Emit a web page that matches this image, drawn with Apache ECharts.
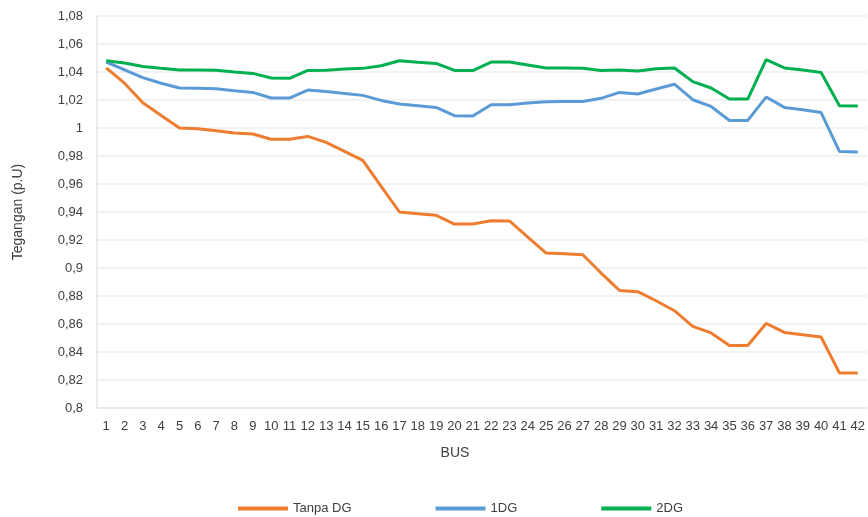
<!DOCTYPE html>
<html>
<head>
<meta charset="utf-8">
<script src="https://cdn.jsdelivr.net/npm/echarts@6/dist/echarts.min.js"></script>
<style>
  html, body { margin: 0; padding: 0; background: #fff; }
  #chart { width: 868px; height: 517px; }
</style>
</head>
<body>
<div id="chart"></div>
<script>
const buses = Array.from({ length: 42 }, (_, i) => String(i + 1));

const tanpaDG = [
  1.043, 1.032, 1.018, 1.009, 1.000, 0.9995, 0.998, 0.9965, 0.9957, 0.992,
  0.992, 0.994, 0.9897, 0.9833, 0.9769, 0.9583, 0.940, 0.9388, 0.9376, 0.9314,
  0.9314, 0.9338, 0.9336, 0.9221, 0.9107, 0.9102, 0.9095, 0.8964, 0.884, 0.8831,
  0.8766, 0.8695, 0.8583, 0.8536, 0.8447, 0.8447, 0.8604, 0.854, 0.8524, 0.8507,
  0.825, 0.825,
];

const oneDG = [
  1.047, 1.0416, 1.036, 1.032, 1.0286, 1.0284, 1.028, 1.0266, 1.0254, 1.0214,
  1.0214, 1.0271, 1.0261, 1.0247, 1.0233, 1.0197, 1.0171, 1.0159, 1.0147, 1.0088,
  1.0086, 1.0166, 1.0166, 1.0178, 1.0188, 1.019, 1.019, 1.0212, 1.0254, 1.0243,
  1.0279, 1.0313, 1.0202, 1.0154, 1.0054, 1.0054, 1.0221, 1.0147, 1.0131, 1.011,
  0.9833, 0.9829,
];

const twoDG = [
  1.048, 1.0464, 1.044, 1.0426, 1.0414, 1.0414, 1.0413, 1.040, 1.039, 1.0357,
  1.0355, 1.0411, 1.0413, 1.0421, 1.0426, 1.0445, 1.048, 1.047, 1.0461, 1.0411,
  1.041, 1.0471, 1.0471, 1.045, 1.0429, 1.0429, 1.0426, 1.041, 1.0414, 1.0407,
  1.0424, 1.0429, 1.0331, 1.0286, 1.0207, 1.0207, 1.0488, 1.0429, 1.0414, 1.0397,
  1.0159, 1.0157,
];

const seriesNames = ['Tanpa DG', '1DG', '2DG'];
const seriesColors = ['#ED7D31', '#5B9BD5', '#00B050'];

const textColor = '#404040';
const font = 'Liberation Sans, Arial, sans-serif';

const chart = echarts.init(document.getElementById('chart'), null, { renderer: 'canvas' });

const makeLine = (name, data, color) => ({
  name,
  type: 'line',
  data,
  symbol: 'none',
  lineStyle: { color, width: 3 },
  itemStyle: { color },
  animation: false,
});

chart.setOption({
  backgroundColor: '#fff',
  animation: false,
  textStyle: { fontFamily: font },
  grid: { left: 97, right: 1, top: 16, bottom: 109 },
  legend: {
    left: 233,
    top: 497,
    itemWidth: 50,
    itemHeight: 4,
    itemGap: 84,
    icon: 'rect',
    textStyle: { color: textColor, fontSize: 13, fontFamily: font },
    data: seriesNames,
  },
  xAxis: {
    type: 'category',
    data: buses,
    boundaryGap: true,
    name: 'BUS',
    nameLocation: 'middle',
    nameGap: 38,
    nameTextStyle: { color: textColor, fontSize: 14, fontFamily: font, padding: [0, 54, 0, 0] },
    axisLine: { show: true, lineStyle: { color: '#e6e6e6', width: 1.5 } },
    axisTick: { show: false },
    axisLabel: { color: textColor, fontSize: 13, fontFamily: font, interval: 0, margin: 12 },
    splitLine: { show: false },
  },
  yAxis: {
    type: 'value',
    min: 0.8,
    max: 1.08,
    interval: 0.02,
    name: 'Tegangan (p.U)',
    nameLocation: 'middle',
    nameGap: 72,
    nameTextStyle: { color: textColor, fontSize: 14, fontFamily: font },
    axisLine: { show: true, lineStyle: { color: '#e6e6e6', width: 1.5 } },
    axisTick: { show: false },
    axisLabel: {
      color: textColor,
      fontSize: 13,
      fontFamily: font,
      margin: 14,
      formatter: (v) => String(parseFloat(v.toFixed(2))).replace('.', ','),
    },
    splitLine: { show: true, lineStyle: { color: '#eeeeee', width: 1.5 } },
  },
  series: [
    makeLine(seriesNames[0], tanpaDG, seriesColors[0]),
    makeLine(seriesNames[1], oneDG, seriesColors[1]),
    makeLine(seriesNames[2], twoDG, seriesColors[2]),
  ],
});
</script>
</body>
</html>
